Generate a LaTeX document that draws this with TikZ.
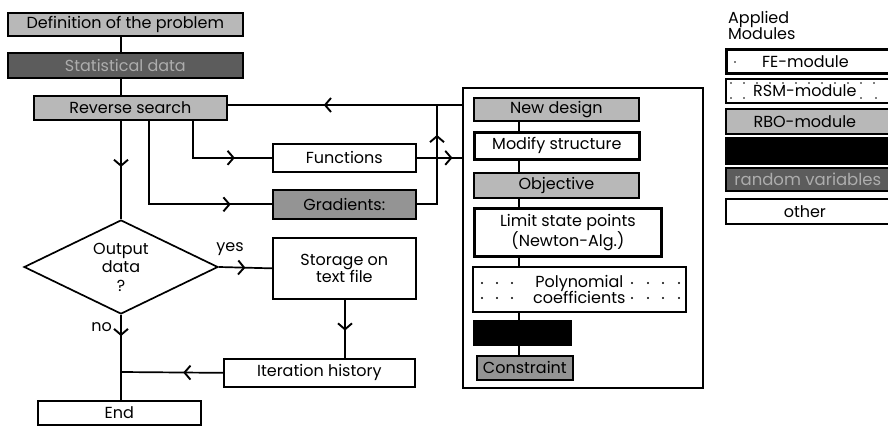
\documentclass[tikz,border=0pt]{standalone}
\usepackage{fontspec}
\setmainfont{Poppins}
\usetikzlibrary{arrows.meta,shapes.geometric,decorations.markings,calc}

\definecolor{lightpat}{gray}{0.72}
\definecolor{midpat}{gray}{0.58}
\definecolor{darkpat}{gray}{0.36}
\definecolor{darktext}{gray}{0.68}

\tikzset{
  lbl/.style={font=\fontsize{16}{17.5}\selectfont},
  box/.style={draw, line width=1.7pt, inner sep=0pt, align=center, lbl, anchor=north west},
  heavy/.style={box, line width=2.8pt},
  light/.style={box, fill=lightpat},
  medium/.style={box, fill=midpat},
  dark/.style={box, fill=darkpat, text=darktext},
  solidblack/.style={box, fill=black},
  link/.style={line width=1.7pt},
  midarrow/.style={link, postaction={decorate},
    decoration={markings, mark=at position #1 with
      {\arrow{Straight Barb[length=6pt,width=14pt,line width=1.9pt]}}}},
  dotmark/.style={fill=black, circle, inner sep=0pt, minimum size=2.2pt},
}

\begin{document}
\begin{tikzpicture}[x=1pt,y=-1pt]
\useasboundingbox (0,0) rectangle (888,427);

% ---------- main flow ----------
\node[light, minimum width=235, minimum height=23] (def) at (7,12) {Definition of the problem};
\node[dark, minimum width=235, minimum height=25] (stat) at (7,52) {Statistical data};
\node[light, minimum width=193, minimum height=24] (rev) at (33,95) {Reverse search};
\node[box, minimum width=143, minimum height=28] (fun) at (272,143) {Functions};
\node[medium, minimum width=143, minimum height=29] (grad) at (272,189) {Gradients:};
\node[draw, line width=1.7pt, diamond, aspect=2.06, minimum width=194, minimum height=94,
      inner sep=0pt, align=center, font=\fontsize{16}{18.5}\selectfont] (dec) at (121,267)
      {Output\\data\\?};
\node[box, minimum width=143, minimum height=61] (store) at (272,237) {Storage on\\text file};
\node[box, minimum width=191, minimum height=28] (iter) at (223,358) {Iteration history};
\node[box, minimum width=163, minimum height=24] (end) at (37,400) {End};

% ---------- optimisation block ----------
\node[draw, line width=1.7pt, minimum width=240, minimum height=300, anchor=north west,
      inner sep=0pt] (blk) at (462,87) {};
\node[light, minimum width=165, minimum height=23] (newd) at (473,97) {New design};
\node[heavy, minimum width=165, minimum height=27] (mod) at (473,131) {Modify structure};
\node[light, minimum width=165, minimum height=25] (obj) at (473,172) {Objective};
\node[heavy, minimum width=187, minimum height=48] (lsp) at (473,207) {Limit state points\\(Newton-Alg.)};
\node[box, minimum width=213, minimum height=45, font=\fontsize{16}{16.5}\selectfont] (poly) at (472,266) {Polynomial\\coefficients};
\node[solidblack, minimum width=97, minimum height=24] (blackbox) at (473,320) {};
\node[medium, minimum width=96, minimum height=24] (con) at (476,355) {Constraint};

\foreach \yy in {283,298}{
  \foreach \xx in {482,497,512,632,648,663,679}{
    \node[dotmark] (pd-\xx-\yy) at (\xx,\yy) {};
  }
}

% ---------- legend ----------
\node[anchor=north west, align=left, inner sep=0pt,
      font=\fontsize{16}{16.5}\selectfont] (legtitle) at (728,11) {Applied\\Modules};
\node[heavy, minimum width=170, minimum height=24] (fe) at (725,48) {\hspace*{-12pt}FE-module};
\node[box, minimum width=170, minimum height=24] (rsm) at (725,78) {\hspace*{-12pt}RSM-module};
\node[light, minimum width=170, minimum height=25] (rbo) at (725,108) {\hspace*{-12pt}RBO-module};
\node[solidblack, minimum width=170, minimum height=26] (legblack) at (725,137) {};
\node[dark, minimum width=170, minimum height=23, font=\fontsize{16.5}{17}\selectfont]
      (rv) at (725,167) {\hspace*{-6pt}random variables};
\node[box, minimum width=170, minimum height=25] (oth) at (725,198) {\hspace*{-12pt}other};

\node[dotmark, minimum size=1.6pt] (fedot) at (735,62) {};
\foreach \xx in {731,744,757,770,783,796,809,822,835,848,861,874}{
  \node[dotmark, minimum size=1.8pt] (rt-\xx) at (\xx,83) {};
}
\foreach \xx in {731,744,861,876}{
  \node[dotmark, minimum size=1.8pt] (rb-\xx) at (\xx,98) {};
}

% ---------- helper coordinates ----------
\coordinate (xa) at (121,0);
\coordinate (xb) at (149,0);
\coordinate (xc) at (193,0);
\coordinate (xe) at (345,0);
\coordinate (xi) at (519,0);
\coordinate (feed) at (437,105);
\coordinate (merge) at (121,372);

% ---------- connectors ----------
\draw[link] (xa |- def.south) -- (xa |- stat.north);
\draw[link] (xa |- stat.south) -- (xa |- rev.north);
\draw[midarrow=0.47] (xa |- rev.south) -- (dec.north);
\draw[midarrow=0.68] (xc |- rev.south) |- (fun.west);
\draw[midarrow=0.80] (xb |- rev.south) |- (grad.west);
\draw[midarrow=0.59] (blk.west |- feed) -- (rev.east |- feed);
\draw[midarrow=0.79] (fun.east) -- (blk.west |- fun.east);
\draw[midarrow=0.75] (grad.east) -| (feed);
\draw[midarrow=0.5] (dec.east) -- (store.west);
\node[anchor=base, inner sep=0pt, lbl] (yes) at (230,252) {yes};
\draw[midarrow=0.53] (xe |- store.south) -- (xe |- iter.north);
\draw[midarrow=0.39] (iter.west) -- (merge);
\draw[midarrow=0.25] (dec.south) -- (xa |- end.north);
\node[anchor=base east, inner sep=0pt, lbl] (no) at (112,331) {no};

\draw[link] (xi |- newd.south) -- (xi |- mod.north);
\draw[link] (xi |- mod.south) -- (xi |- obj.north);
\draw[link] (xi |- obj.south) -- (xi |- lsp.north);
\draw[link] (xi |- lsp.south) -- (xi |- poly.north);
\draw[link] (xi |- poly.south) -- (xi |- blackbox.north);
\draw[link] (xi |- blackbox.south) -- (xi |- con.north);

\end{tikzpicture}
\end{document}
